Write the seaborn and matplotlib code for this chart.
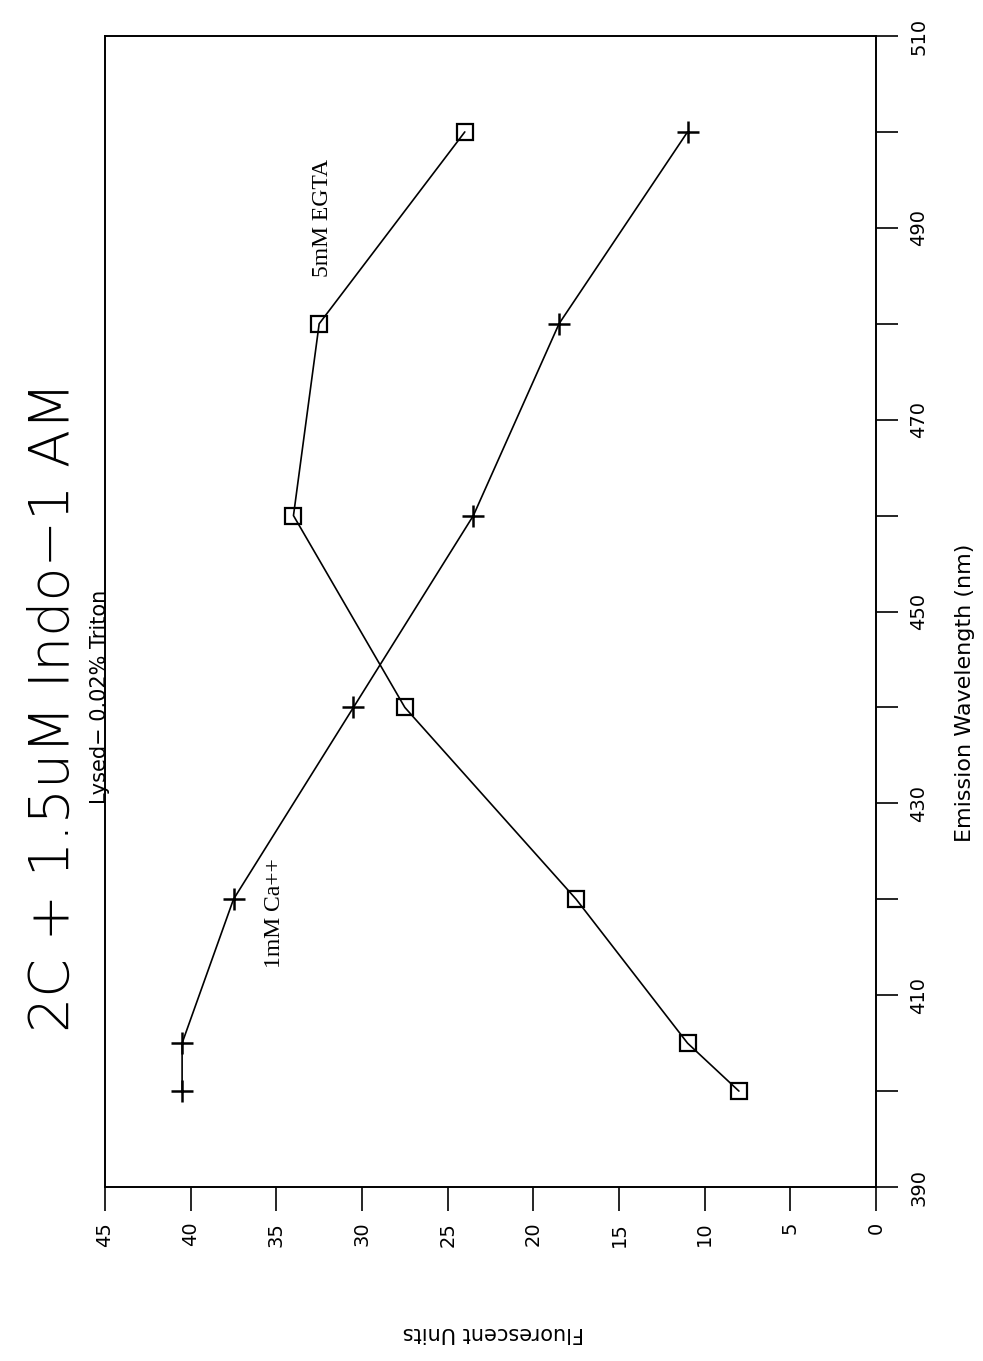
import numpy as np
import pandas as pd
import matplotlib
matplotlib.use("Agg")
import matplotlib.pyplot as plt
import seaborn as sns

# Emission spectra of Indo-1 in lysed cells
wavelength = [400, 405, 420, 440, 460, 480, 500]
egta_units = [8.0, 11.0, 17.5, 27.5, 34.0, 32.5, 24.0]
calcium_units = [40.5, 40.5, 37.5, 30.5, 23.5, 18.5, 11.0]

units_ticks = [45, 40, 35, 30, 25, 20, 15, 10, 5, 0]
wl_major = [390, 410, 430, 450, 470, 490, 510]
wl_minor = [400, 420, 440, 460, 480, 500]

title = "2C + 1.5uM Indo\u22121 AM"
subtitle = "Lysed\u2212 0.02% Triton"

sns.set_theme(style="white")
plt.rcParams["font.family"] = ["DejaVu Sans"]
plt.rcParams["text.color"] = "black"
plt.rcParams["xtick.color"] = "black"
plt.rcParams["ytick.color"] = "black"

fig = plt.figure(figsize=(9.83, 13.61), dpi=100)
W, H = 983, 1361
ax = fig.add_axes([105 / W, 1 - 1187 / H, (876 - 105) / W, (1187 - 36) / H])

df_egta = pd.DataFrame({"units": egta_units, "wl": wavelength})
df_ca = pd.DataFrame({"units": calcium_units, "wl": wavelength})

sns.lineplot(data=df_egta, x="units", y="wl", orient="y", ax=ax, color="black",
             linewidth=1.2, marker="s", markersize=11, markerfacecolor="none",
             markeredgecolor="black", markeredgewidth=1.6)
sns.lineplot(data=df_ca, x="units", y="wl", orient="y", ax=ax, color="black",
             linewidth=1.2, marker="+", markersize=16, markeredgecolor="black",
             markeredgewidth=1.8)

ax.set_xlim(45, 0)
ax.set_ylim(390, 510)
ax.set_xticks(units_ticks)
ax.set_xticklabels([str(v) for v in units_ticks], rotation=90, fontsize=14,
                   va="top", ha="center")
ax.yaxis.tick_right()
ax.set_yticks(wl_major)
ax.set_yticks(wl_minor, minor=True)
ax.set_yticklabels([str(v) for v in wl_major], rotation=90, fontsize=14,
                   va="center", ha="left")
ax.tick_params(axis="x", which="major", direction="out", length=17, width=1.2,
               color="black", pad=8, bottom=True)
ax.tick_params(axis="y", which="both", direction="out", length=16, width=1.2,
               color="black", pad=8, right=True, left=False)
ax.set_xlabel("")
ax.set_ylabel("")
for s in ax.spines.values():
    s.set_visible(True)
    s.set_color("black")
    s.set_linewidth(1.4)

# series labels
ax.text(32.3, 491, "5mM EGTA", rotation=90, ha="center", va="center",
        fontsize=17, family="Liberation Serif")
ax.text(35.1, 418.6, "1mM Ca++", rotation=90, ha="center", va="center",
        fontsize=17, family="Liberation Serif")

# titles and axis labels placed around the rotated frame
fig.text(54 / W, 1 - 707 / H, title, rotation=90, ha="center", va="center",
         fontsize=40, fontweight="light")
fig.text(100 / W, 1 - 697 / H, subtitle, rotation=90, ha="center", va="center",
         fontsize=15)
fig.text(965 / W, 1 - 693 / H, "Emission Wavelength (nm)", rotation=90,
         ha="center", va="center", fontsize=16)
fig.text(493 / W, 1 - 1333 / H, "Fluorescent Units", rotation=180,
         ha="center", va="center", fontsize=15)

fig.savefig("out.png", dpi=100, facecolor="white")
